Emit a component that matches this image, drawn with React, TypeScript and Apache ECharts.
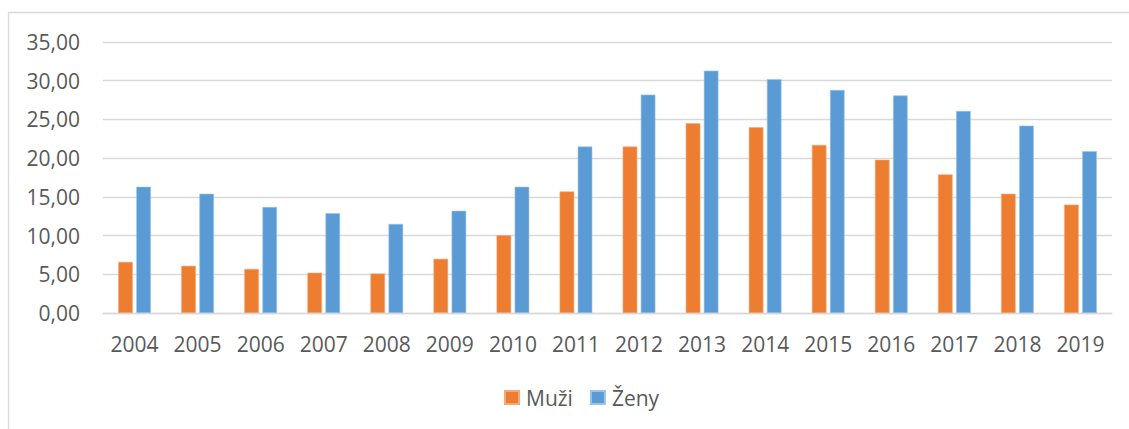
import React, { useEffect, useRef } from "react";
import * as echarts from "echarts";

const years = ["2004", "2005", "2006", "2007", "2008", "2009", "2010", "2011", "2012", "2013", "2014", "2015", "2016", "2017", "2018", "2019"];
const muzi = [6.6, 6.1, 5.7, 5.2, 5.1, 7.0, 10.05, 15.7, 21.5, 24.5, 24.0, 21.7, 19.8, 17.9, 15.4, 14.0];
const zeny = [16.3, 15.4, 13.7, 12.9, 11.5, 13.2, 16.3, 21.5, 28.2, 31.3, 30.2, 28.8, 28.1, 26.1, 24.2, 20.9];
const seriesNames = ["Muži", "Ženy"];
const colors = ["#ED7D31", "#5B9BD5"];

const FONT = "'Open Sans', 'Noto Sans', sans-serif";
const TEXT = "#595959";

export default function App() {
  const ref = useRef<HTMLDivElement>(null);
  useEffect(() => {
    document.body.style.margin = "0";
    const chart = echarts.init(ref.current!, null, { renderer: "svg" });
    chart.setOption({
      animation: false,
      backgroundColor: "#ffffff",
      textStyle: { fontFamily: FONT },
      graphic: [
        {
          type: "rect",
          shape: { x: 8.5, y: 12.5, width: 1300, height: 600 },
          style: { fill: "none", stroke: "#d9d9d9", lineWidth: 1.3 },
          silent: true,
          z: -1,
        },
      ],
      grid: { left: 103, right: 17, top: 42, bottom: 116, containLabel: false },
      legend: {
        data: seriesNames,
        left: 499,
        top: 382,
        itemWidth: 14,
        itemHeight: 13,
        itemGap: 17,
        icon: "rect",
        textStyle: { color: TEXT, fontSize: 21, fontFamily: FONT, padding: [0, 0, 0, 2] },
      },
      xAxis: {
        type: "category",
        data: years,
        axisLine: { show: true, lineStyle: { color: "#d9d9d9", width: 1.3 } },
        axisTick: { show: false },
        axisLabel: { color: TEXT, fontSize: 21, fontFamily: FONT, margin: 20 },
      },
      yAxis: {
        type: "value",
        min: 0,
        max: 35,
        interval: 5,
        axisLine: { show: false },
        axisTick: { show: false },
        splitLine: { lineStyle: { color: "#d9d9d9", width: 1.3 } },
        axisLabel: {
          color: TEXT,
          fontSize: 21,
          fontFamily: FONT,
          margin: 23,
          formatter: (v: number) => v.toFixed(2).replace(".", ","),
        },
      },
      series: [
        {
          name: seriesNames[0],
          type: "bar",
          data: muzi,
          barWidth: 14.6,
          barGap: "24%",
          itemStyle: { color: colors[0], borderColor: "#f5a878", borderWidth: 0.6 },
        },
        {
          name: seriesNames[1],
          type: "bar",
          data: zeny,
          barWidth: 14.6,
          barGap: "24%",
          itemStyle: { color: colors[1], borderColor: "#9cc3e6", borderWidth: 0.6 },
        },
      ],
    });
    return () => chart.dispose();
  }, []);
  return <div ref={ref} style={{ width: 1129, height: 429 }} />;
}
